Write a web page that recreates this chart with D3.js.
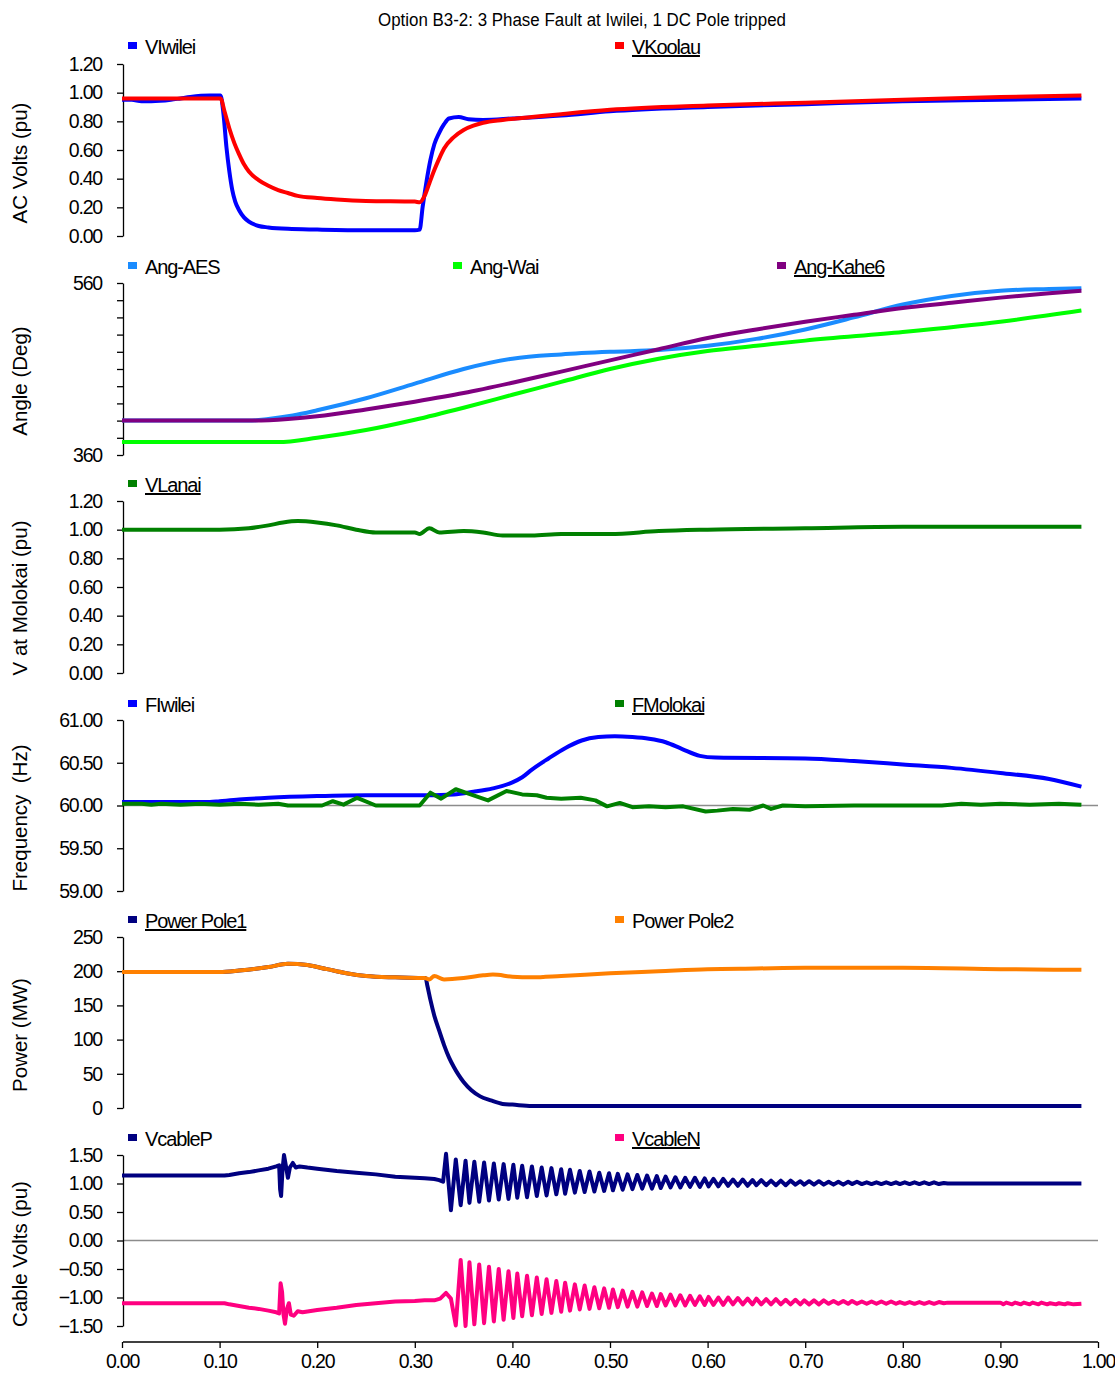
<!DOCTYPE html>
<html>
<head>
<meta charset="utf-8">
<script src="https://cdn.jsdelivr.net/npm/d3@7"></script>
<style>
  html, body { margin: 0; padding: 0; background: #fff; }
  svg { display: block; font-family: "Liberation Sans", Arial, sans-serif; }
  .tick text { font-size: 19.5px; letter-spacing: -1.2px; fill: #000; }
  .axis path, .axis line { stroke: #000; stroke-width: 1.3; }
</style>
</head>
<body>
<svg id="chart" width="1115" height="1374"></svg>
<script>
// ---------------- DATA ----------------
const chartTitle = "Option B3-2: 3 Phase Fault at Iwilei, 1 DC Pole tripped";
const xTicks = [0, 0.1, 0.2, 0.3, 0.4, 0.5, 0.6, 0.7, 0.8, 0.9, 1.0];

// Panel 1: AC Volts (pu)
const vIwilei = [[0,0.95],[0.01,0.95],[0.02,0.94],[0.03,0.94],[0.05,0.95],[0.06,0.96],[0.07,0.97],[0.09,0.98],[0.101,0.98],
  [0.104,0.85],[0.107,0.62],[0.11,0.45],[0.113,0.32],[0.116,0.24],[0.12,0.18],[0.125,0.13],[0.13,0.10],[0.14,0.07],[0.15,0.06],
  [0.17,0.05],[0.2,0.045],[0.25,0.04],[0.3,0.04],[0.305,0.045],[0.308,0.2],[0.312,0.38],[0.316,0.53],[0.32,0.64],[0.325,0.72],
  [0.33,0.78],[0.335,0.82],[0.345,0.83],[0.355,0.815],[0.37,0.81],[0.4,0.82],[0.45,0.84],[0.5,0.87],[0.6,0.9],[0.7,0.92],
  [0.8,0.94],[0.9,0.95],[0.983,0.96]];
const vKoolau = [[0,0.96],[0.05,0.96],[0.101,0.96],[0.105,0.87],[0.11,0.75],[0.115,0.65],[0.12,0.57],[0.125,0.5],[0.13,0.45],
  [0.14,0.39],[0.15,0.35],[0.16,0.32],[0.17,0.3],[0.18,0.28],[0.2,0.265],[0.22,0.255],[0.25,0.245],[0.3,0.24],[0.305,0.235],
  [0.31,0.28],[0.315,0.37],[0.32,0.46],[0.325,0.54],[0.33,0.61],[0.34,0.69],[0.35,0.74],[0.36,0.77],[0.37,0.79],[0.39,0.81],
  [0.42,0.83],[0.45,0.85],[0.5,0.88],[0.6,0.91],[0.7,0.93],[0.8,0.95],[0.9,0.97],[0.983,0.98]];

// Panel 2: Angle (Deg)
const angAES = [[0,400],[0.13,400],[0.15,402],[0.175,406],[0.2,412],[0.25,426],[0.3,443],[0.35,460],[0.4,472],[0.45,477],
  [0.5,480],[0.55,482],[0.6,487],[0.65,495],[0.7,506],[0.75,520],[0.8,535],[0.85,545],[0.9,551],[0.95,553],[0.983,554]];
const angWai = [[0,375],[0.05,375],[0.1,375],[0.16,375],[0.2,380],[0.25,389],[0.3,401],[0.35,415],[0.4,430],[0.45,445],
  [0.5,460],[0.55,472],[0.6,481],[0.65,487],[0.7,493],[0.8,503],[0.9,515],[0.983,528]];
const angKahe6 = [[0,400],[0.13,400],[0.17,402],[0.2,405],[0.25,413],[0.3,422],[0.35,432],[0.4,444],[0.45,457],[0.5,470],
  [0.55,483],[0.6,496],[0.65,506],[0.7,515],[0.75,523],[0.8,531],[0.85,537],[0.9,543],[0.95,548],[0.983,551]];

// Panel 3: V at Molokai (pu)
const vLanai = [[0,1.0],[0.05,1.0],[0.1,1.0],[0.13,1.01],[0.15,1.03],[0.165,1.05],[0.18,1.06],[0.2,1.05],[0.22,1.03],
  [0.24,1.0],[0.26,0.98],[0.28,0.98],[0.3,0.98],[0.305,0.97],[0.315,1.01],[0.325,0.98],[0.35,0.99],[0.37,0.98],[0.39,0.96],
  [0.42,0.96],[0.45,0.97],[0.5,0.97],[0.55,0.99],[0.6,1.0],[0.7,1.01],[0.8,1.02],[0.9,1.02],[0.983,1.02]];

// Panel 4: Frequency (Hz)
const fIwilei = [[0,60.04],[0.05,60.04],[0.09,60.04],[0.1,60.05],[0.12,60.07],[0.15,60.09],[0.2,60.11],[0.25,60.12],
  [0.3,60.12],[0.34,60.13],[0.36,60.16],[0.38,60.2],[0.4,60.27],[0.41,60.33],[0.42,60.42],[0.437,60.55],[0.454,60.67],
  [0.471,60.76],[0.488,60.8],[0.505,60.81],[0.523,60.8],[0.54,60.78],[0.557,60.74],[0.574,60.66],[0.592,60.58],[0.608,60.56],
  [0.7,60.55],[0.75,60.52],[0.8,60.48],[0.85,60.44],[0.9,60.38],[0.95,60.31],[0.983,60.22]];
const fMolokai = [[0,60.02],[0.02,60.02],[0.03,60.01],[0.04,60.02],[0.06,60.01],[0.08,60.02],[0.1,60.01],[0.12,60.02],
  [0.14,60.01],[0.16,60.02],[0.17,60.0],[0.205,60.0],[0.216,60.05],[0.227,60.01],[0.241,60.09],[0.26,60.0],[0.305,60.0],
  [0.316,60.15],[0.327,60.08],[0.342,60.19],[0.355,60.14],[0.375,60.06],[0.394,60.17],[0.41,60.13],[0.425,60.12],
  [0.435,60.09],[0.45,60.08],[0.47,60.09],[0.485,60.06],[0.497,59.99],[0.51,60.03],[0.523,59.98],[0.54,59.99],
  [0.557,59.98],[0.575,59.99],[0.598,59.93],[0.61,59.94],[0.626,59.96],[0.643,59.95],[0.657,60.0],[0.665,59.96],
  [0.677,60.0],[0.7,59.99],[0.75,60.0],[0.8,60.0],[0.84,60.0],[0.86,60.02],[0.88,60.01],[0.9,60.02],[0.93,60.01],
  [0.96,60.02],[0.983,60.01]];

// Panel 5: Power (MW)
const powerPole1 = [[0,199],[0.1,199],[0.12,201],[0.15,206],[0.17,211],[0.19,209],[0.21,203],[0.23,197],[0.25,193],
  [0.28,191],[0.311,190],[0.313,178],[0.316,158],[0.32,135],[0.325,113],[0.33,92],[0.335,74],[0.34,60],[0.345,48],
  [0.35,38],[0.358,26],[0.367,17],[0.378,11],[0.39,6],[0.4,5],[0.42,3],[0.5,3],[0.7,3],[0.983,3]];
const powerPole2 = [[0,199],[0.1,199],[0.12,201],[0.15,206],[0.17,211],[0.19,209],[0.21,203],[0.23,197],[0.25,193],
  [0.28,191],[0.31,190],[0.315,188],[0.32,193],[0.33,188],[0.35,190],[0.37,194],[0.38,195],[0.4,192],[0.42,191],
  [0.45,193],[0.5,197],[0.55,200],[0.6,203],[0.65,204],[0.7,205],[0.8,205],[0.9,203],[0.983,202]];

// Panel 6: Cable Volts (pu)
const vcablePpre = [[0,1.14],[0.105,1.14],[0.11,1.15],[0.12,1.18],[0.13,1.2],[0.14,1.23],[0.15,1.26],[0.158,1.3],
  [0.161,1.32],[0.162,0.9],[0.163,0.78],[0.1645,1.25],[0.166,1.5],[0.168,1.3],[0.17,1.1],[0.172,1.28],[0.175,1.36],
  [0.178,1.28],[0.182,1.3],[0.19,1.28],[0.2,1.26],[0.22,1.22],[0.24,1.19],[0.26,1.16],[0.28,1.12],[0.3,1.1],[0.31,1.09],
  [0.32,1.08],[0.325,1.06],[0.329,1.03]];
const vcableNpre = [[0,-1.1],[0.105,-1.1],[0.11,-1.12],[0.12,-1.15],[0.13,-1.18],[0.14,-1.2],[0.15,-1.23],[0.158,-1.26],
  [0.161,-1.28],[0.1625,-0.75],[0.164,-0.9],[0.1655,-1.3],[0.167,-1.46],[0.169,-1.2],[0.171,-1.1],[0.173,-1.3],
  [0.176,-1.32],[0.18,-1.24],[0.185,-1.26],[0.2,-1.22],[0.22,-1.18],[0.24,-1.13],[0.26,-1.1],[0.28,-1.07],[0.3,-1.06],
  [0.31,-1.05],[0.32,-1.05],[0.326,-1.02]];
const cableOscTimes = [0.332,0.337,0.342,0.347,0.352,0.356,0.361,0.366,0.371,0.376,0.381,0.386,0.391,0.396,0.401,0.405,
  0.410,0.415,0.420,0.425,0.430,0.435,0.440,0.445,0.450,0.454,0.459,0.464,0.469,0.474,0.479,0.484,0.489,0.494,0.499,0.503,
  0.508,0.513,0.518,0.523,0.528,0.533,0.538,0.543,0.548,0.552,0.557,0.562,0.567,0.572,0.577,0.582,0.587,0.592,0.597,0.601,
  0.606,0.611,0.616,0.621,0.626,0.631,0.636,0.641,0.646,0.650,0.655,0.660,0.665,0.670,0.675,0.680,0.685,0.690,0.695,0.699,
  0.704,0.709,0.714,0.719,0.724,0.729,0.734,0.739,0.744,0.748,0.753,0.758,0.763,0.768,0.773,0.778,0.783,0.788,0.793,0.797,
  0.802,0.807,0.812,0.817,0.822,0.827,0.832,0.837,0.842,0.846];
const vcablePosc = [1.52,0.53,1.42,0.62,1.40,0.66,1.38,0.68,1.37,0.70,1.35,0.72,1.34,0.73,1.33,0.75,1.31,0.76,1.30,0.78,
  1.28,0.79,1.27,0.81,1.25,0.82,1.24,0.84,1.22,0.85,1.21,0.86,1.19,0.87,1.18,0.88,1.17,0.89,1.16,0.90,1.15,0.91,1.14,0.91,
  1.13,0.92,1.12,0.93,1.11,0.93,1.10,0.94,1.10,0.94,1.09,0.95,1.08,0.95,1.08,0.96,1.07,0.96,1.07,0.96,1.06,0.97,1.06,0.97,
  1.05,0.97,1.05,0.97,1.05,0.98,1.04,0.98,1.04,0.98,1.04,0.98,1.03,0.98,1.03,0.98,1.03,0.99,1.03,0.99,1.02,0.99,1.02,0.99,
  1.02,0.99,1.02,0.99,1.02,0.99,1.02,0.99,1.02,0.99,1.02,0.99,1.01,1.0];
const vcableNosc = [-0.92,-1.02,-1.49,-0.34,-1.50,-0.38,-1.47,-0.42,-1.45,-0.46,-1.42,-0.50,-1.39,-0.54,-1.36,-0.58,-1.33,
  -0.62,-1.31,-0.65,-1.29,-0.68,-1.27,-0.71,-1.25,-0.74,-1.23,-0.77,-1.21,-0.79,-1.20,-0.82,-1.19,-0.84,-1.18,-0.86,-1.17,
  -0.88,-1.16,-0.90,-1.16,-0.91,-1.15,-0.93,-1.15,-0.94,-1.14,-0.95,-1.14,-0.96,-1.14,-0.97,-1.13,-0.98,-1.13,-0.99,-1.13,
  -1.00,-1.13,-1.00,-1.12,-1.01,-1.12,-1.02,-1.12,-1.02,-1.12,-1.03,-1.12,-1.03,-1.12,-1.04,-1.12,-1.04,-1.12,-1.05,-1.12,
  -1.05,-1.12,-1.05,-1.11,-1.06,-1.11,-1.06,-1.11,-1.06,-1.11,-1.07,-1.11,-1.07,-1.11,-1.07,-1.11,-1.07,-1.11,-1.08,-1.11,
  -1.08,-1.11,-1.08,-1.11,-1.08,-1.11,-1.08,-1.10,-1.09];
const vcablePpost = [[0.85,1.0],[0.983,1.0]];
const vcableNpost = [[0.85,-1.09],[0.9,-1.09],[0.903,-1.12],[0.906,-1.09],[0.912,-1.12],[0.915,-1.09],[0.921,-1.12],
  [0.924,-1.09],[0.93,-1.12],[0.933,-1.09],[0.939,-1.12],[0.942,-1.09],[0.948,-1.12],[0.951,-1.1],[0.957,-1.12],
  [0.96,-1.1],[0.966,-1.12],[0.969,-1.1],[0.975,-1.12],[0.983,-1.11]];

// ---------------- CHART ----------------
const svg = d3.select("#chart");
const x = d3.scaleLinear().domain([0, 1]).range([122, 1098]);
const AX = 123;

svg.append("text")
  .attr("x", 582).attr("y", 26)
  .attr("text-anchor", "middle")
  .attr("font-size", 18)
  .attr("textLength", 408).attr("lengthAdjust", "spacingAndGlyphs")
  .text(chartTitle);

const vcableP = vcablePpre.concat(cableOscTimes.map((t, i) => [t, vcablePosc[i]]), vcablePpost);
const vcableN = vcableNpre.concat(cableOscTimes.map((t, i) => [t, vcableNosc[i]]), vcableNpost);

const panels = [
  { domain: [0, 1.2], range: [236, 64], ticks: d3.range(0, 1.21, 0.2), fmt: d3.format(".2f"),
    title: "AC Volts (pu)", titleY: 163, legendY: 47,
    series: [
      { data: vIwilei, color: "#0000ff", name: "VIwilei", lx: 128, ul: false, curve: d3.curveMonotoneX },
      { data: vKoolau, color: "#ff0000", name: "VKoolau", lx: 615, ul: true, curve: d3.curveMonotoneX }] },
  { domain: [360, 560], range: [455, 283], ticks: d3.range(360, 561, 20),
    fmt: d => (d === 360 || d === 560) ? String(d) : "",
    title: "Angle (Deg)", titleY: 381, legendY: 267,
    series: [
      { data: angAES, color: "#1a8cff", name: "Ang-AES", lx: 128, ul: false, curve: d3.curveMonotoneX },
      { data: angWai, color: "#00ff00", name: "Ang-Wai", lx: 453, ul: false, curve: d3.curveMonotoneX },
      { data: angKahe6, color: "#800080", name: "Ang-Kahe6", lx: 777, ul: true, curve: d3.curveMonotoneX }] },
  { domain: [0, 1.2], range: [673, 501], ticks: d3.range(0, 1.21, 0.2), fmt: d3.format(".2f"),
    title: "V at Molokai (pu)", titleY: 598, legendY: 485,
    series: [
      { data: vLanai, color: "#008000", name: "VLanai", lx: 128, ul: true, curve: d3.curveMonotoneX }] },
  { domain: [59, 61], range: [891, 720], ticks: [59, 59.5, 60, 60.5, 61], fmt: d3.format(".2f"),
    title: "Frequency  (Hz)", titleY: 818, legendY: 705, ref: 60,
    series: [
      { data: fIwilei, color: "#0000ff", name: "FIwilei", lx: 128, ul: false, curve: d3.curveMonotoneX },
      { data: fMolokai, color: "#008000", name: "FMolokai", lx: 615, ul: true, curve: d3.curveLinear }] },
  { domain: [0, 250], range: [1108, 937], ticks: d3.range(0, 251, 50), fmt: d3.format("d"),
    title: "Power (MW)", titleY: 1035, legendY: 921,
    series: [
      { data: powerPole1, color: "#000080", name: "Power Pole1", lx: 128, ul: true, curve: d3.curveMonotoneX },
      { data: powerPole2, color: "#ff8000", name: "Power Pole2", lx: 615, ul: false, curve: d3.curveMonotoneX }] },
  { domain: [-1.5, 1.5], range: [1326, 1155], ticks: [-1.5, -1, -0.5, 0, 0.5, 1, 1.5], fmt: d3.format(".2f"),
    title: "Cable Volts (pu)", titleY: 1254, legendY: 1139, ref: 0,
    series: [
      { data: vcableP, color: "#000080", name: "VcableP", lx: 128, ul: false, curve: d3.curveLinear },
      { data: vcableN, color: "#ff0080", name: "VcableN", lx: 615, ul: true, curve: d3.curveLinear }] }
];

panels.forEach(p => {
  const y = d3.scaleLinear().domain(p.domain).range(p.range);
  const g = svg.append("g");

  if (p.ref !== undefined) {
    g.append("line")
      .attr("x1", AX).attr("x2", 1098)
      .attr("y1", y(p.ref)).attr("y2", y(p.ref))
      .attr("stroke", "#8c8c8c").attr("stroke-width", 1.3);
  }

  const ax = g.append("g").attr("class", "axis")
    .attr("transform", `translate(${AX},0)`)
    .call(d3.axisLeft(y).tickValues(p.ticks).tickFormat(p.fmt).tickSize(6).tickSizeOuter(0).tickPadding(15));
  ax.selectAll("text").attr("font-family", "Liberation Sans, Arial, sans-serif");

  g.append("text")
    .attr("transform", `translate(27,${p.titleY}) rotate(-90)`)
    .attr("text-anchor", "middle")
    .attr("font-size", 20.5)
    .attr("xml:space", "preserve")
    .style("white-space", "pre")
    .text(p.title);

  p.series.forEach(s => {
    const line = d3.line().x(d => x(d[0])).y(d => y(d[1])).curve(s.curve);
    g.append("path")
      .datum(s.data)
      .attr("d", line)
      .attr("fill", "none")
      .attr("stroke", s.color)
      .attr("stroke-width", 4)
      .attr("stroke-linejoin", "round");

    g.append("rect")
      .attr("x", s.lx).attr("y", p.legendY - 5)
      .attr("width", 9).attr("height", 7)
      .attr("fill", s.color);
    g.append("text")
      .attr("x", s.lx + 17).attr("y", p.legendY + 7)
      .attr("font-size", 20)
      .attr("letter-spacing", "-1.1px")
      .attr("text-decoration", s.ul ? "underline" : null)
      .text(s.name);
  });
});

// Shared x axis
const xa = svg.append("g").attr("class", "axis")
  .attr("transform", "translate(0,1342)")
  .call(d3.axisBottom(x).tickValues(xTicks).tickFormat(d3.format(".2f")).tickSize(6).tickSizeOuter(0).tickPadding(6));
xa.select(".domain").attr("d", `M${AX},0H${x(1)}`);
</script>
</body>
</html>
